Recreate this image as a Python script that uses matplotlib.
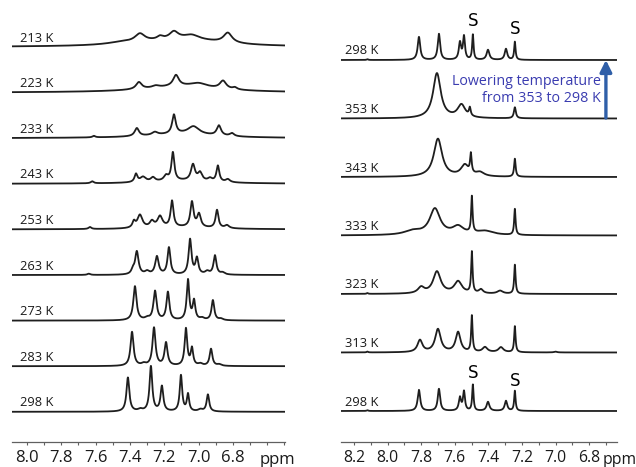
import matplotlib.pyplot as plt
import numpy as np
from matplotlib.transforms import blended_transform_factory


# ---------------------------------------------------------
# data: peaks as (ppm, height, fwhm)
# ---------------------------------------------------------
LEFT_LABELS = ["213 K", "223 K", "233 K", "243 K", "253 K",
               "263 K", "273 K", "283 K", "298 K"]

LEFT_PEAKS = [
    # 213 K
    [(7.342, 8, 0.07), (7.225, 3, 0.04), (7.144, 7, 0.06), (7.04, 4, 0.1),
     (6.83, 10, 0.06), (7.10, 8, 0.55), (7.45, 2, 0.2)],
    # 223 K
    [(7.348, 7, 0.04), (7.25, 2, 0.05), (7.132, 11, 0.04), (7.0, 4, 0.12),
     (6.858, 8, 0.045), (6.789, 2, 0.03), (7.10, 6, 0.55)],
    # 233 K
    [(7.61, 1.5, 0.02), (7.36, 8, 0.03), (7.255, 3, 0.04), (7.144, 19, 0.025),
     (7.03, 8, 0.08), (6.882, 10, 0.03), (6.806, 3, 0.03), (7.10, 4, 0.5)],
    # 243 K
    [(7.62, 2, 0.02), (7.365, 8, 0.02), (7.324, 5, 0.04), (7.266, 4, 0.03),
     (7.19, 5, 0.03), (7.15, 28, 0.02), (7.033, 16, 0.028), (6.992, 8, 0.03),
     (6.934, 3, 0.03), (6.888, 16, 0.02), (6.83, 3, 0.03), (7.1, 3, 0.45)],
    # 253 K
    [(7.633, 2, 0.02), (7.377, 6, 0.02), (7.342, 13, 0.035), (7.272, 6, 0.03),
     (7.225, 11, 0.035), (7.155, 26, 0.02), (7.039, 25, 0.022),
     (6.998, 13, 0.025), (6.893, 18, 0.02), (6.835, 3, 0.03), (7.1, 2, 0.45)],
    # 263 K
    [(7.64, 1.2, 0.02), (7.383, 4, 0.02), (7.36, 23, 0.024), (7.30, 3, 0.03),
     (7.243, 18, 0.024), (7.173, 27, 0.02), (7.05, 35, 0.02),
     (7.01, 16, 0.02), (6.95, 3, 0.03), (6.905, 19, 0.02), (6.86, 2, 0.03)],
    # 273 K
    [(7.371, 34, 0.022), (7.30, 2, 0.03), (7.254, 29, 0.022), (7.179, 28, 0.02),
     (7.062, 40, 0.018), (7.027, 19, 0.018), (6.98, 2, 0.03),
     (6.917, 20, 0.019), (6.87, 1.5, 0.03)],
    # 283 K
    [(7.388, 34, 0.021), (7.32, 2, 0.03), (7.26, 38, 0.021), (7.19, 23, 0.021),
     (7.074, 37, 0.018), (7.039, 17, 0.017), (6.99, 2, 0.03),
     (6.928, 17, 0.019), (6.88, 1.5, 0.03)],
    # 298 K
    [(7.412, 34, 0.02), (7.34, 2, 0.03), (7.278, 45, 0.019), (7.214, 25, 0.019),
     (7.103, 36, 0.017), (7.062, 17, 0.016), (6.99, 2, 0.03),
     (6.946, 17, 0.018)],
]

RIGHT_LABELS = ["298 K", "353 K", "343 K", "333 K", "323 K", "313 K", "298 K"]

RIGHT_PEAKS = [
    # 298 K (after cooling)
    [(8.12, 0.8, 0.01), (7.813, 23, 0.018), (7.694, 26, 0.017),
     (7.569, 17, 0.016), (7.545, 23, 0.014), (7.492, 25, 0.01),
     (7.402, 10, 0.02), (7.295, 11, 0.018), (7.242, 18, 0.01)],
    # 353 K
    [(7.706, 45, 0.055), (7.56, 13, 0.055), (7.51, 8, 0.012), (7.242, 11, 0.014)],
    # 343 K
    [(7.70, 38, 0.06), (7.54, 11, 0.055), (7.504, 19, 0.011), (7.45, 4, 0.06),
     (7.242, 18, 0.011)],
    # 333 K
    [(7.85, 4, 0.12), (7.718, 26, 0.075), (7.58, 8, 0.08), (7.498, 36, 0.01),
     (7.42, 4, 0.12), (7.242, 26, 0.01)],
    # 323 K
    [(8.12, 0.8, 0.01), (7.80, 6, 0.045), (7.706, 22, 0.055), (7.58, 12, 0.055),
     (7.498, 41, 0.01), (7.444, 4, 0.03), (7.33, 3, 0.04), (7.242, 29, 0.01)],
    # 313 K
    [(8.12, 0.8, 0.01), (7.807, 12, 0.035), (7.70, 23, 0.04), (7.58, 20, 0.035),
     (7.498, 36, 0.01), (7.42, 5, 0.035), (7.325, 5, 0.035), (7.242, 26, 0.01),
     (7.0, 0.8, 0.02)],
    # 298 K
    [(8.12, 0.8, 0.01), (7.813, 21, 0.018), (7.694, 22, 0.017),
     (7.569, 13, 0.016), (7.545, 19, 0.014), (7.492, 26, 0.01),
     (7.402, 9, 0.02), (7.295, 10, 0.018), (7.242, 20, 0.01)],
]

LEFT_TICKS = [8.0, 7.8, 7.6, 7.4, 7.2, 7.0, 6.8]
RIGHT_TICKS = [8.2, 8.0, 7.8, 7.6, 7.4, 7.2, 7.0, 6.8]
SOLVENT_PPM = [7.492, 7.242]


# ---------------------------------------------------------
# layout
# ---------------------------------------------------------
FIG_W, FIG_H = 636, 467
AXIS_Y = 442                 # pixel row of the ppm axis
LINE_COLOR = "#1e1e1e"
BLUE_TEXT = "#3a3cb0"
BLUE_ARROW = "#2f5fa8"


def spectrum(x, peaks):
    y = np.zeros_like(x)
    for centre, height, fwhm in peaks:
        g = fwhm / 2.0
        y += height * g ** 2 / ((x - centre) ** 2 + g ** 2)
    return y


def setup_axis(ax, xlim, ticks, size):
    ax.set_xlim(*xlim)
    ax.set_ylim(0, AXIS_Y)
    for side in ("top", "left", "right"):
        ax.spines[side].set_visible(False)
    ax.spines["bottom"].set_color("#606060")
    ax.spines["bottom"].set_linewidth(0.9)
    ax.set_yticks([])
    ax.set_xticks(ticks)
    ax.set_xticklabels([f"{t:.1f}" for t in ticks])
    minor = np.round(np.arange(8.3, 6.5, -0.1), 2)
    ax.set_xticks([m for m in minor if xlim[1] < m < xlim[0]], minor=True)
    ax.tick_params(axis="x", which="both", direction="out", length=2.5,
                   width=0.8, color="#606060", pad=3, labelsize=size,
                   labelcolor="#1a1a1a")
    trans = blended_transform_factory(ax.transData, ax.transAxes)
    return trans


def draw_stack(ax, xlim, peak_lists, labels, top, step, label_ppm):
    x = np.linspace(xlim[0], xlim[1], 4000)
    for i, (peaks, lab) in enumerate(zip(peak_lists, labels)):
        off = top - i * step
        ax.plot(x, off + spectrum(x, peaks), color=LINE_COLOR, lw=1.3)
        ax.text(label_ppm, off + 9, lab, fontsize=9.3, ha="left",
                va="center", color="#1a1a1a")


def main():
    plt.rcParams["font.family"] = ["Open Sans", "DejaVu Sans"]
    fig = plt.figure(figsize=(FIG_W / 100, FIG_H / 100), dpi=100)
    bottom = (FIG_H - AXIS_Y) / FIG_H
    height = AXIS_Y / FIG_H

    # left panel: variable temperature, cooling
    left_lim = (8.087, 6.497)
    axl = fig.add_axes([12 / FIG_W, bottom, 273 / FIG_W, height])
    tl = setup_axis(axl, left_lim, LEFT_TICKS, 12)
    draw_stack(axl, left_lim, LEFT_PEAKS, LEFT_LABELS, 395, 45.6, 8.041)
    axl.text(6.54, -0.04, "ppm", transform=tl, fontsize=12,
             ha="center", va="center", color="#1a1a1a")

    # right panel: heating, then back to 298 K
    right_lim = (8.277, 6.634)
    axr = fig.add_axes([341 / FIG_W, bottom, 276 / FIG_W, height])
    tr = setup_axis(axr, right_lim, RIGHT_TICKS, 11.3)
    draw_stack(axr, right_lim, RIGHT_PEAKS, RIGHT_LABELS, 382, 58.5, 8.254)
    axr.text(6.618, -0.04, "ppm", transform=tr, fontsize=11.3,
             ha="center", va="center", color="#1a1a1a")

    # solvent marks
    for ppm, dy in zip(SOLVENT_PPM, (0, -8)):
        axr.text(ppm, 421 + dy, "S", fontsize=12, ha="center", va="center",
                 family="DejaVu Sans")
        axr.text(ppm, 69 + dy, "S", fontsize=12, ha="center", va="center",
                 family="DejaVu Sans")

    axr.text(6.73, 352, "Lowering temperature\nfrom 353 to 298 K",
             fontsize=10.3, color=BLUE_TEXT, ha="right", va="center",
             multialignment="right", linespacing=1.1)
    axr.annotate("", xy=(6.70, 382), xytext=(6.70, 324),
                 arrowprops=dict(arrowstyle="-|>,head_width=0.35,head_length=0.7",
                                 color=BLUE_ARROW, lw=2.4, shrinkA=0, shrinkB=0))

    fig.savefig("out.png", dpi=100)
    plt.close(fig)


if __name__ == "__main__":
    main()
